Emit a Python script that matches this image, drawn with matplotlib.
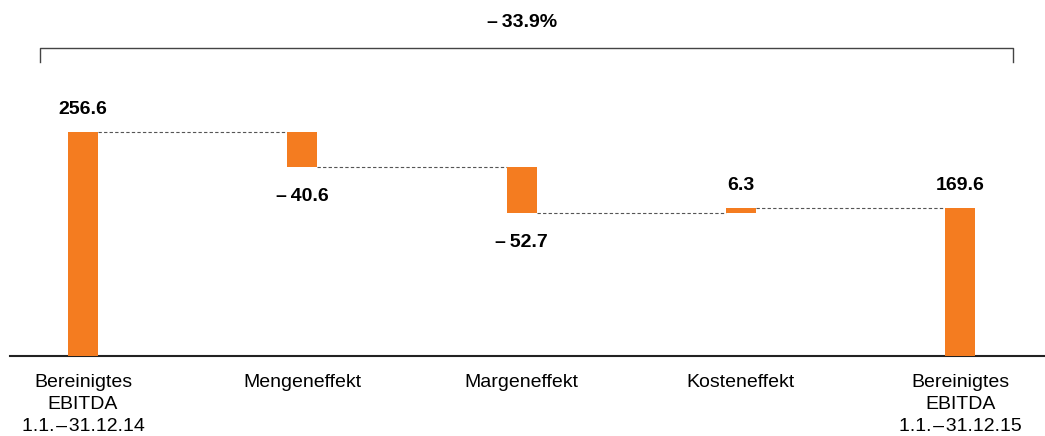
import numpy as np
import matplotlib
matplotlib.use("Agg")
import matplotlib.pyplot as plt

plt.rcParams['font.family'] = ['Liberation Sans Narrow', 'Liberation Sans', 'DejaVu Sans']

categories = ["Bereinigtes\nEBITDA\n1.1.\u200a\u2013\u200a31.12.14", "Mengeneffekt", "Margeneffekt",
              "Kosteneffekt", "Bereinigtes\nEBITDA\n1.1.\u200a\u2013\u200a31.12.15"]
values = [256.6, -40.6, -52.7, 6.3, 169.6]
is_total = [True, False, False, False, True]
value_labels = ["256.6", "\u2013\u200940.6", "\u2013\u200952.7", "6.3", "169.6"]
change_label = "\u2013\u200933.9%"

orange = "#F47C20"
bar_w = 0.137

fig = plt.figure(figsize=(10.45, 4.36), dpi=100)
ax = fig.add_axes([0.0096, 0.1835, 0.9904, 0.8165])

# waterfall bottoms / tops
bottoms = []
tops = []
level = 0.0
for v, tot in zip(values, is_total):
    if tot:
        b, t = 0.0, v
        level = v
    else:
        b, t = min(level, level + v), max(level, level + v)
        level = level + v
    bottoms.append(b)
    tops.append(t)

x = np.arange(len(values))
ax.bar(x, np.array(tops) - np.array(bottoms), bottom=bottoms, width=bar_w, color=orange, zorder=3)

# dashed connectors
level = 0.0
for i, (v, tot) in enumerate(zip(values, is_total)):
    level = v if tot else level + v
    if i < len(values) - 1:
        ax.plot([x[i] + bar_w / 2, x[i + 1] - bar_w / 2], [level, level],
                ls=(0, (3, 2)), lw=0.8, color="#555555", zorder=2)

# value labels
for i, v in enumerate(values):
    if v >= 0:
        ax.annotate(value_labels[i], (x[i], tops[i]), xytext=(0, 10), textcoords="offset points",
                    ha="center", va="bottom", fontsize=14, fontweight="bold")
    else:
        ax.annotate(value_labels[i], (x[i], bottoms[i]), xytext=(0, -15), textcoords="offset points",
                    ha="center", va="top", fontsize=14, fontweight="bold")

ax.set_xlim(-0.333, 4.387)
ax.set_ylim(0, 407.8)

# bracket showing overall change
yb, yt = 352.8, 336.8
ax.plot([-0.196, -0.196, 4.241, 4.241], [yt, yb, yb, yt], color="#444444", lw=1.0, clip_on=False)
ax.text(2.0, 381.5, change_label, ha="center", va="center", fontsize=14, fontweight="bold")

ax.set_xticks(x)
ax.set_xticklabels(categories, fontsize=14, linespacing=1.4)
ax.tick_params(axis="x", length=0, pad=13)
ax.set_yticks([])
for s in ["top", "right", "left"]:
    ax.spines[s].set_visible(False)
ax.spines["bottom"].set_linewidth(1.5)
ax.spines["bottom"].set_color("#222222")

fig.savefig("out.png", dpi=100)
